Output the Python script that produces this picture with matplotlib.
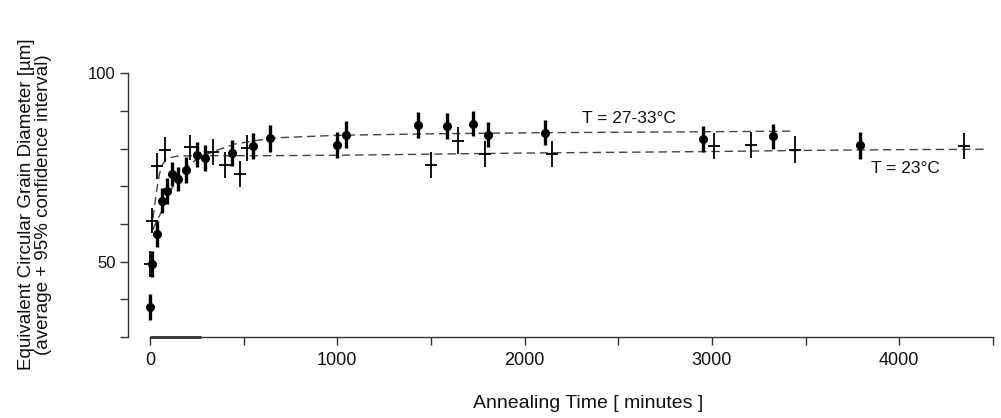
import numpy as np
import matplotlib.pyplot as plt

plt.rcParams['font.family'] = ['Liberation Sans', 'DejaVu Sans']

# T = 27-33 C (filled circles)
warm_x = [0, 9, 36, 64, 92, 116, 148, 192, 249, 293, 439, 548, 640, 1001, 1049,
          1430, 1588, 1722, 1806, 2109, 2951, 3324, 3789]
warm_y = [37.9, 49.4, 57.3, 66.2, 68.8, 73.3, 71.9, 74.3, 78.4, 77.5, 78.8, 80.6, 82.7, 81.0, 83.7,
          86.3, 85.9, 86.6, 83.7, 84.2, 82.6, 83.2, 80.8]
warm_err = [3.4, 3.5, 3.4, 3.3, 3.5, 3.2, 3.3, 3.5, 3.4, 3.5, 3.4, 3.4, 3.5, 3.4, 3.5,
            3.4, 3.4, 3.4, 3.4, 3.4, 3.5, 3.4, 3.5]

# T = 23 C (crosses)
cool_x = [0, 11, 38, 78, 213, 338, 400, 480, 516, 1503, 1645, 1788, 2145, 3011, 3211, 3442, 4344]
cool_y = [49.3, 60.8, 75.4, 79.7, 80.3, 79.1, 75.7, 73.2, 80.1, 75.7, 82.1, 78.6, 78.6, 80.7, 81.0, 79.7, 80.6]
cool_err = [3.5, 3.3, 3.4, 3.4, 3.4, 3.4, 3.5, 3.5, 3.4, 3.5, 3.5, 3.5, 3.5, 3.4, 3.4, 3.5, 3.5]

# fitted curves
warm_fit_x = [15, 35, 64, 107, 151, 196, 249, 338, 454, 651, 1000, 1500, 2100, 2800, 3430]
warm_fit_y = [58.5, 60.5, 63.5, 68.6, 72.3, 74.8, 77.2, 79.2, 81.2, 82.8, 83.5, 83.9, 84.2, 84.4, 84.6]
cool_fit_x = [8, 20, 36, 50, 62, 85, 107, 150, 300, 600, 1000, 1500, 2000, 2500, 3000, 3500, 4000, 4450]
cool_fit_y = [58.0, 63.0, 69.0, 73.0, 75.5, 77.0, 77.6, 78.0, 78.1, 78.1, 78.2, 78.5, 78.8, 79.0, 79.2, 79.5, 79.7, 79.8]

fig = plt.figure(figsize=(10.01, 4.18), dpi=100)
ax = fig.add_axes([0.1279, 0.194, 0.864, 0.640])

dash = (0, (6, 3.5))
ax.plot(warm_fit_x, warm_fit_y, linestyle=dash, color='#444444', lw=1.0)
ax.plot(cool_fit_x, cool_fit_y, linestyle=dash, color='#444444', lw=1.0)

ax.errorbar(cool_x, cool_y, yerr=cool_err, fmt='_', color='black', markersize=8,
            mew=1.3, elinewidth=1.3, capsize=0)
ax.errorbar(warm_x, warm_y, yerr=warm_err, fmt='o', color='black', markersize=5.5,
            elinewidth=2.4, capsize=0)

ax.text(2305, 88.0, 'T = 27-33°C', fontsize=12.5, va='center', ha='left', color='#111111')
ax.text(3851, 74.8, 'T = 23°C', fontsize=12.5, va='center', ha='left', color='#111111')

ax.set_xlim(-117, 4500)
ax.set_ylim(30, 101)
for s in ['top', 'right']:
    ax.spines[s].set_visible(False)
ax.spines['bottom'].set_bounds(0, 4500)
ax.spines['left'].set_bounds(30, 100)
for s in ['bottom', 'left']:
    ax.spines[s].set_color('#333333')
    ax.spines[s].set_linewidth(1.0)
# short thicker piece on the time axis near the origin
ax.plot([0, 270], [30, 30], color='#333333', lw=2.0, clip_on=False, solid_capstyle='butt')

ax.set_xticks([0, 1000, 2000, 3000, 4000])
ax.set_xticks([500, 1500, 2500, 3500, 4500], minor=True)
ax.set_yticks([50, 100])
ax.set_yticks([30, 40, 60, 70, 80, 90], minor=True)
ax.tick_params(which='both', direction='out', length=6, width=1.0, color='#333333',
               labelcolor='#111111', pad=3)
ax.tick_params(axis='x', labelsize=13, pad=5)
ax.tick_params(axis='y', labelsize=12)

fig.text(588 / 1001, 1 - 403 / 418, 'Annealing Time [ minutes ]', fontsize=14,
         ha='center', va='center', color='#111111')
fig.text(35 / 1001, 0.511, 'Equivalent Circular Grain Diameter [µm]\n(average + 95% confidence interval)',
         fontsize=13.5, rotation=90, ha='center', va='center', linespacing=1.0, color='#111111')

fig.savefig('out.png', dpi=100)
